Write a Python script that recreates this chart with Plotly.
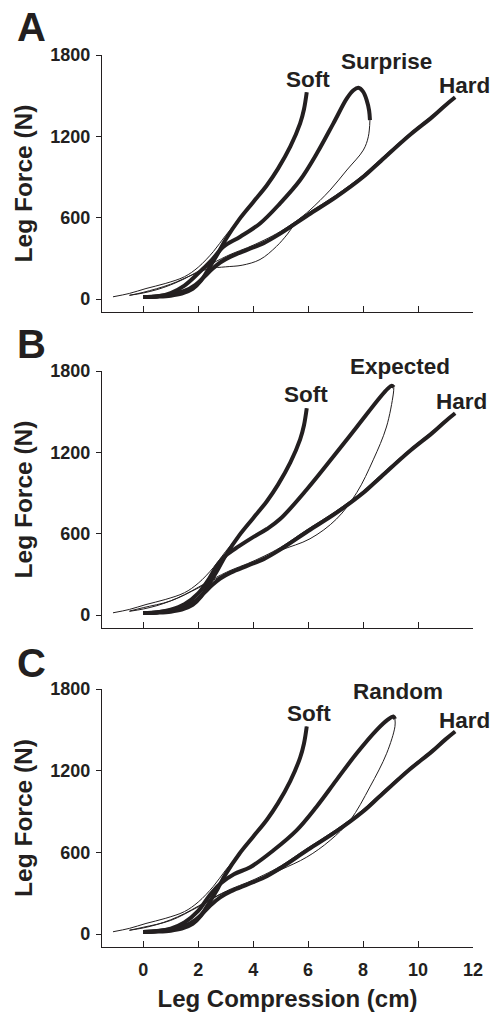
import plotly.graph_objects as go

# ---------------- data ----------------
# Soft surface (same trial shown in every panel)
SOFT_LOAD_X = [0.0, 0.5, 1.0, 1.4, 1.8, 2.1, 2.4, 2.7, 3.0, 3.5, 4.0, 4.5, 4.9, 5.35, 5.71, 5.85, 5.95]
SOFT_LOAD_Y = [15, 18, 25, 40, 75, 135, 230, 330, 440, 590, 715, 840, 960, 1124, 1296, 1400, 1525]
SOFT_UNLOAD_X = [5.95, 5.85, 5.71, 5.35, 4.9, 4.5, 4.0, 3.5, 3.0, 2.55, 2.0, 1.5, 0.8, 0.1, -0.5, -1.1]
SOFT_UNLOAD_Y = [1525, 1400, 1296, 1124, 960, 840, 715, 590, 470, 350, 235, 165, 115, 78, 42, 17]

# Hard surface (same trial shown in every panel)
HARD_LOAD_X = [0.0, 0.5, 1.0, 1.5, 1.9, 2.2, 2.5, 2.8, 3.2, 3.8, 4.4, 5.0, 6.0, 7.0, 8.0, 8.6, 9.7, 10.5, 11.0, 11.35]
HARD_LOAD_Y = [15, 22, 35, 60, 105, 160, 220, 270, 315, 365, 415, 485, 620, 750, 900, 1010, 1210, 1340, 1430, 1488]
HARD_UNLOAD_X = [11.35, 11.0, 10.5, 9.7, 8.6, 8.0, 7.0, 6.0, 5.0, 4.4, 3.8, 3.2, 2.5, 2.0, 1.5, 1.0, 0.5, 0.0, -0.5]
HARD_UNLOAD_Y = [1488, 1440, 1352, 1222, 1025, 915, 765, 635, 500, 435, 380, 332, 262, 205, 150, 105, 70, 45, 28]

# Panel A: Surprise
SURPRISE_LOAD_X = [0.0, 0.5, 1.0, 1.5, 2.0, 2.5, 2.92, 3.53, 4.25, 4.98, 5.71, 6.32, 6.92, 7.41, 7.65, 7.83, 8.0, 8.13, 8.22, 8.25]
SURPRISE_LOAD_Y = [15, 20, 45, 100, 190, 290, 386, 460, 558, 706, 878, 1075, 1296, 1480, 1540, 1558, 1530, 1468, 1390, 1320]
SURPRISE_UNLOAD_X = [8.25, 8.19, 8.01, 7.41, 6.8, 6.07, 5.6, 5.25, 4.85, 4.25, 3.6, 3.0, 2.4, 1.8, 1.0, 0.0, -0.5]
SURPRISE_UNLOAD_Y = [1320, 1197, 1099, 952, 804, 657, 575, 480, 389, 292, 250, 238, 225, 180, 110, 50, 28]

# Panel B: Expected
EXPECTED_LOAD_X = [0.0, 0.5, 1.0, 1.5, 2.0, 2.4, 2.7, 3.0, 3.5, 4.0, 4.5, 4.98, 5.95, 6.92, 7.77, 8.62, 8.9, 9.04, 9.12]
EXPECTED_LOAD_Y = [15, 20, 40, 80, 160, 270, 370, 440, 510, 575, 635, 708, 926, 1169, 1387, 1606, 1670, 1691, 1680]
EXPECTED_UNLOAD_X = [9.12, 9.1, 8.85, 8.37, 7.77, 7.03, 6.07, 5.0, 4.0, 3.0, 2.0, 1.0, 0.0, -0.5]
EXPECTED_UNLOAD_Y = [1680, 1630, 1387, 1145, 903, 708, 563, 478, 388, 305, 200, 105, 55, 30]

# Panel C: Random
RANDOM_LOAD_X = [0.0, 0.5, 1.0, 1.5, 2.0, 2.4, 2.8, 3.3, 3.89, 4.73, 5.58, 6.3, 7.03, 7.77, 8.5, 8.9, 9.1, 9.16]
RANDOM_LOAD_Y = [15, 20, 40, 85, 170, 280, 370, 440, 491, 614, 762, 934, 1131, 1328, 1500, 1575, 1598, 1580]
RANDOM_UNLOAD_X = [9.16, 9.16, 8.86, 8.25, 7.53, 6.8, 5.95, 5.0, 4.0, 3.0, 2.0, 1.0, 0.0, -0.5]
RANDOM_UNLOAD_Y = [1580, 1524, 1328, 1081, 836, 688, 565, 472, 382, 310, 200, 100, 50, 28]

Y_TICKS = [0, 600, 1200, 1800]
X_TICKS = [0, 2, 4, 6, 8, 10, 12]
PANEL_LETTERS = ["A", "B", "C"]
MIDDLE_NAMES = ["Surprise", "Expected", "Random"]
MIDDLE_LOADS = [(SURPRISE_LOAD_X, SURPRISE_LOAD_Y, SURPRISE_UNLOAD_X, SURPRISE_UNLOAD_Y),
                (EXPECTED_LOAD_X, EXPECTED_LOAD_Y, EXPECTED_UNLOAD_X, EXPECTED_UNLOAD_Y),
                (RANDOM_LOAD_X, RANDOM_LOAD_Y, RANDOM_UNLOAD_X, RANDOM_UNLOAD_Y)]

# ---------------- figure ----------------
INK = "#231f20"
FONT = "Liberation Sans, Arial, Helvetica, sans-serif"
W, H = 492, 1012
ML, MR, MT, MB = 102, 19, 55, 65
PLOT_H = H - MT - MB

def frac(py):
    return (H - MB - py) / PLOT_H

domains = [(frac(312), frac(55)), (frac(628), frac(371)), (frac(947), frac(689))]

fig = go.Figure()
THICK, THIN = 4.0, 1.0

for i in range(3):
    xa = "x" if i == 0 else f"x{i+1}"
    ya = "y" if i == 0 else f"y{i+1}"
    lx, ly, ux, uy = MIDDLE_LOADS[i]
    curves = [
        (SOFT_UNLOAD_X, SOFT_UNLOAD_Y, THIN),
        (HARD_UNLOAD_X, HARD_UNLOAD_Y, THIN),
        (ux, uy, THIN),
        (SOFT_LOAD_X, SOFT_LOAD_Y, THICK),
        (HARD_LOAD_X, HARD_LOAD_Y, THICK),
        (lx, ly, THICK),
    ]
    for cx, cy, w in curves:
        fig.add_trace(go.Scatter(x=cx, y=cy, mode="lines", xaxis=xa, yaxis=ya,
                                 line=dict(color=INK, width=w, shape="spline", smoothing=1.0),
                                 showlegend=False, hoverinfo="skip"))

axis_common = dict(showline=True, linecolor=INK, linewidth=1.3, showgrid=False,
                   zeroline=False, tickcolor=INK, tickwidth=1.3, mirror=False)

for i in range(3):
    sx = "" if i == 0 else str(i + 1)
    fig.update_layout(**{
        f"xaxis{sx}": dict(axis_common, range=[-1.5, 12], tickvals=X_TICKS,
                           ticks="inside", ticklen=6, anchor=f"y{sx}",
                           showticklabels=(i == 2),
                           tickfont=dict(family=FONT, size=18, color=INK, weight="bold"),
                           ticklabelstandoff=6,
                           title=dict(text="Leg Compression (cm)" if i == 2 else "",
                                      font=dict(family=FONT, size=24, color=INK, weight="bold"),
                                      standoff=12)),
        f"yaxis{sx}": dict(axis_common, range=[-95, 1800], tickvals=Y_TICKS,
                           ticks="outside", ticklen=5, anchor=f"x{sx}",
                           domain=list(domains[i]),
                           tickfont=dict(family=FONT, size=18, color=INK, weight="bold"),
                           ticklabelstandoff=2,
                           title=dict(text="Leg Force (N)",
                                      font=dict(family=FONT, size=24.5, color=INK, weight="bold"),
                                      standoff=10)),
    })

annotations = []
letter_y = [27, 344, 663]
for i in range(3):
    annotations.append(dict(text=PANEL_LETTERS[i], xref="paper", yref="paper",
                            x=(31 - ML) / (W - ML - MR), y=frac(letter_y[i]),
                            xanchor="center", yanchor="middle", showarrow=False,
                            font=dict(family=FONT, size=40, color=INK, weight="bold")))

# label centres: (text, x in data units, y in pixels from the top of the picture)
label_pos = [
    [("Soft", 6.01, 79.5), (MIDDLE_NAMES[0], 8.84, 61.5), ("Hard", 11.68, 85.8)],
    [("Soft", 5.93, 394.2), (MIDDLE_NAMES[1], 9.35, 366.3), ("Hard", 11.59, 401.2)],
    [("Soft", 6.02, 713.3), (MIDDLE_NAMES[2], 9.27, 691.2), ("Hard", 11.68, 720.0)],
]
for i in range(3):
    sx = "" if i == 0 else str(i + 1)
    for txt, ax_x, py in label_pos[i]:
        annotations.append(dict(text=txt, xref=f"x{sx}", yref="paper", x=ax_x, y=frac(py),
                                xanchor="center", yanchor="middle", showarrow=False,
                                font=dict(family=FONT, size=22.5, color=INK, weight="bold")))

fig.update_layout(width=W, height=H, margin=dict(l=ML, r=MR, t=MT, b=MB, autoexpand=False),
                  paper_bgcolor="white", plot_bgcolor="white",
                  annotations=annotations, showlegend=False)

fig.write_html("out.html", config={"displayModeBar": False},
               post_script="document.body.style.margin='0px';document.body.style.padding='0px';")
